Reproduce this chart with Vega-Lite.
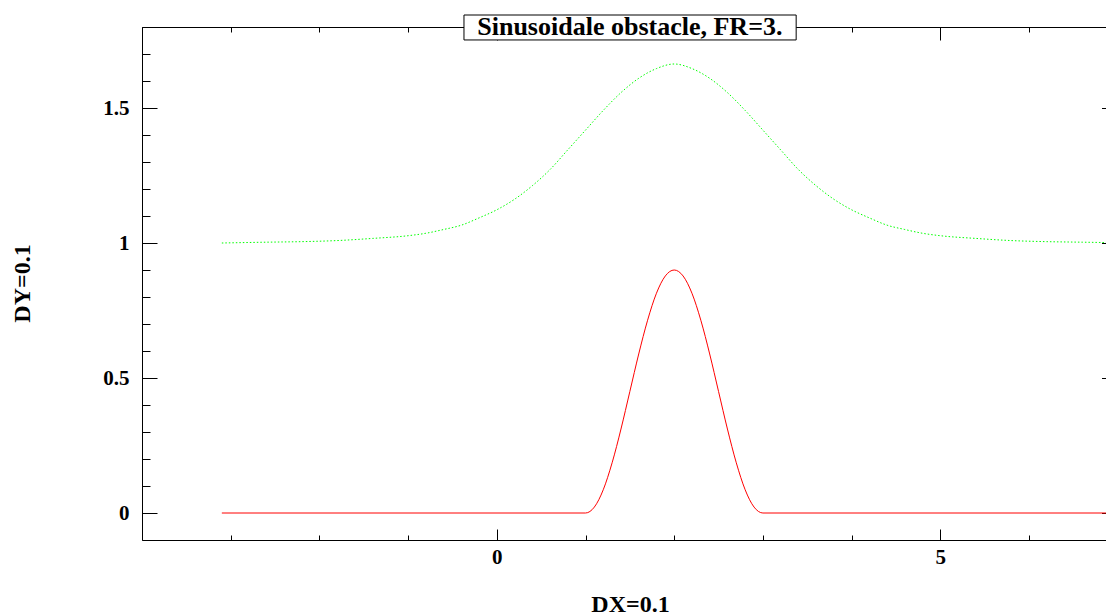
{
  "$schema": "https://vega.github.io/schema/vega-lite/v6.json",
  "autosize": "none",
  "width": 964,
  "height": 513,
  "padding": {"left": 142, "top": 27, "right": 0, "bottom": 75},
  "background": "white",
  "config": {
    "view": {"stroke": null},
    "axis": {"grid": false, "domainColor": "black", "tickColor": "black", "domainWidth": 1, "tickWidth": 1, "labelColor": "black", "titleColor": "black"}
  },
  "datasets": {
    "obstacle": [
      {"x": -3.1, "y": 0}, {"x": 1.0, "y": 0}, {"x": 1.1, "y": 0.022}, {"x": 1.2, "y": 0.086},
      {"x": 1.3, "y": 0.186}, {"x": 1.4, "y": 0.311}, {"x": 1.5, "y": 0.45}, {"x": 1.6, "y": 0.589},
      {"x": 1.7, "y": 0.714}, {"x": 1.8, "y": 0.814}, {"x": 1.9, "y": 0.878}, {"x": 2.0, "y": 0.9},
      {"x": 2.1, "y": 0.878}, {"x": 2.2, "y": 0.814}, {"x": 2.3, "y": 0.714}, {"x": 2.4, "y": 0.589},
      {"x": 2.5, "y": 0.45}, {"x": 2.6, "y": 0.311}, {"x": 2.7, "y": 0.186}, {"x": 2.8, "y": 0.086},
      {"x": 2.9, "y": 0.022}, {"x": 3.0, "y": 0}, {"x": 7.0, "y": 0}
    ],
    "surface": [
      {"x": -3.1, "y": 1.0}, {"x": -2.6, "y": 1.003}, {"x": -2.2, "y": 1.005}, {"x": -1.8, "y": 1.009},
      {"x": -1.4, "y": 1.017}, {"x": -1.0, "y": 1.027}, {"x": -0.8, "y": 1.036}, {"x": -0.6, "y": 1.05},
      {"x": -0.4, "y": 1.066}, {"x": -0.2, "y": 1.093}, {"x": 0.0, "y": 1.123}, {"x": 0.2, "y": 1.162},
      {"x": 0.4, "y": 1.212}, {"x": 0.6, "y": 1.272}, {"x": 0.8, "y": 1.345}, {"x": 1.0, "y": 1.418},
      {"x": 1.2, "y": 1.491}, {"x": 1.4, "y": 1.557}, {"x": 1.6, "y": 1.61}, {"x": 1.8, "y": 1.646},
      {"x": 2.0, "y": 1.663}, {"x": 2.2, "y": 1.646}, {"x": 2.4, "y": 1.61}, {"x": 2.6, "y": 1.557},
      {"x": 2.8, "y": 1.491}, {"x": 3.0, "y": 1.418}, {"x": 3.2, "y": 1.345}, {"x": 3.4, "y": 1.272},
      {"x": 3.6, "y": 1.212}, {"x": 3.8, "y": 1.162}, {"x": 4.0, "y": 1.123}, {"x": 4.2, "y": 1.093},
      {"x": 4.4, "y": 1.066}, {"x": 4.6, "y": 1.05}, {"x": 4.8, "y": 1.036}, {"x": 5.0, "y": 1.027},
      {"x": 5.4, "y": 1.017}, {"x": 5.8, "y": 1.009}, {"x": 6.2, "y": 1.005}, {"x": 6.6, "y": 1.003},
      {"x": 7.0, "y": 1.001}
    ]
  },
  "resolve": {"axis": {"x": "independent", "y": "independent"}},
  "layer": [
    {
      "data": {"name": "obstacle"},
      "mark": {"type": "line", "color": "#ff0000", "strokeWidth": 1, "clip": true, "interpolate": "monotone"},
      "encoding": {
        "x": {
          "field": "x", "type": "quantitative",
          "scale": {"domain": [-4, 6.868], "nice": false, "zero": false},
          "axis": {
            "orient": "bottom",
            "values": [-4, -3, -2, -1, 0, 1, 2, 3, 4, 5, 6],
            "tickSize": {"condition": {"test": "datum.value % 5 === 0", "value": -11}, "value": -5},
            "labelExpr": "datum.value % 5 === 0 ? format(datum.value, '~g') : ''",
            "labelFlush": false, "labelOverlap": false, "labelBound": false,
            "labelFont": "Liberation Serif", "labelFontWeight": "bold", "labelFontSize": 21,
            "labelPadding": 17,
            "title": "DX=0.1",
            "titleFont": "Liberation Serif", "titleFontWeight": "bold", "titleFontSize": 24,
            "titleX": 488, "titleY": 64, "titleAlign": "center", "titleBaseline": "middle"
          }
        },
        "y": {
          "field": "y", "type": "quantitative",
          "scale": {"domain": [-0.1, 1.8], "nice": false, "zero": false},
          "axis": {
            "orient": "left",
            "values": [0, 0.1, 0.2, 0.3, 0.4, 0.5, 0.6, 0.7, 0.8, 0.9, 1, 1.1, 1.2, 1.3, 1.4, 1.5, 1.6, 1.7, 1.8],
            "tickSize": {"condition": {"test": "abs(datum.value * 2 - round(datum.value * 2)) < 0.001", "value": -15}, "value": -8},
            "labelExpr": "abs(datum.value * 2 - round(datum.value * 2)) < 0.001 ? format(datum.value, '~g') : ''",
            "labelFlush": false, "labelOverlap": false, "labelBound": false,
            "labelFont": "Liberation Serif", "labelFontWeight": "bold", "labelFontSize": 21,
            "labelPadding": 28,
            "title": "DY=0.1",
            "titleFont": "Liberation Serif", "titleFontWeight": "bold", "titleFontSize": 24,
            "titleX": -120, "titleY": 256, "titleAlign": "center", "titleBaseline": "middle", "titleAngle": -90
          }
        }
      }
    },
    {
      "data": {"name": "surface"},
      "mark": {"type": "line", "color": "#00ff00", "strokeWidth": 1, "strokeDash": [1.5, 2], "interpolate": "monotone", "clip": true},
      "encoding": {
        "x": {
          "field": "x", "type": "quantitative",
          "axis": {
            "orient": "top",
            "values": [-4, -3, -2, -1, 0, 1, 2, 3, 4, 5, 6],
            "tickSize": {"condition": {"test": "datum.value % 5 === 0", "value": -13}, "value": -5},
            "labels": false, "title": null, "domain": true
          }
        },
        "y": {
          "field": "y", "type": "quantitative",
          "axis": {
            "orient": "right",
            "values": [0, 0.5, 1, 1.5],
            "tickSize": -4.5,
            "labels": false, "title": null, "domain": false
          }
        }
      }
    },
    {
      "data": {"values": [{}]},
      "mark": {"type": "rect", "fill": "white", "stroke": "black", "strokeWidth": 1},
      "encoding": {
        "x": {"datum": -0.37, "type": "quantitative", "axis": null},
        "x2": {"datum": 3.375},
        "y": {"datum": 1.8444, "type": "quantitative", "axis": null},
        "y2": {"datum": 1.752}
      }
    },
    {
      "data": {"values": [{}]},
      "mark": {"type": "text", "text": "Sinusoidale obstacle, FR=3.", "font": "Liberation Serif", "fontWeight": "bold", "fontSize": 26, "align": "center", "baseline": "middle", "color": "black"},
      "encoding": {
        "x": {"datum": 1.5, "type": "quantitative", "axis": null},
        "y": {"datum": 1.8, "type": "quantitative", "axis": null}
      }
    }
  ]
}
